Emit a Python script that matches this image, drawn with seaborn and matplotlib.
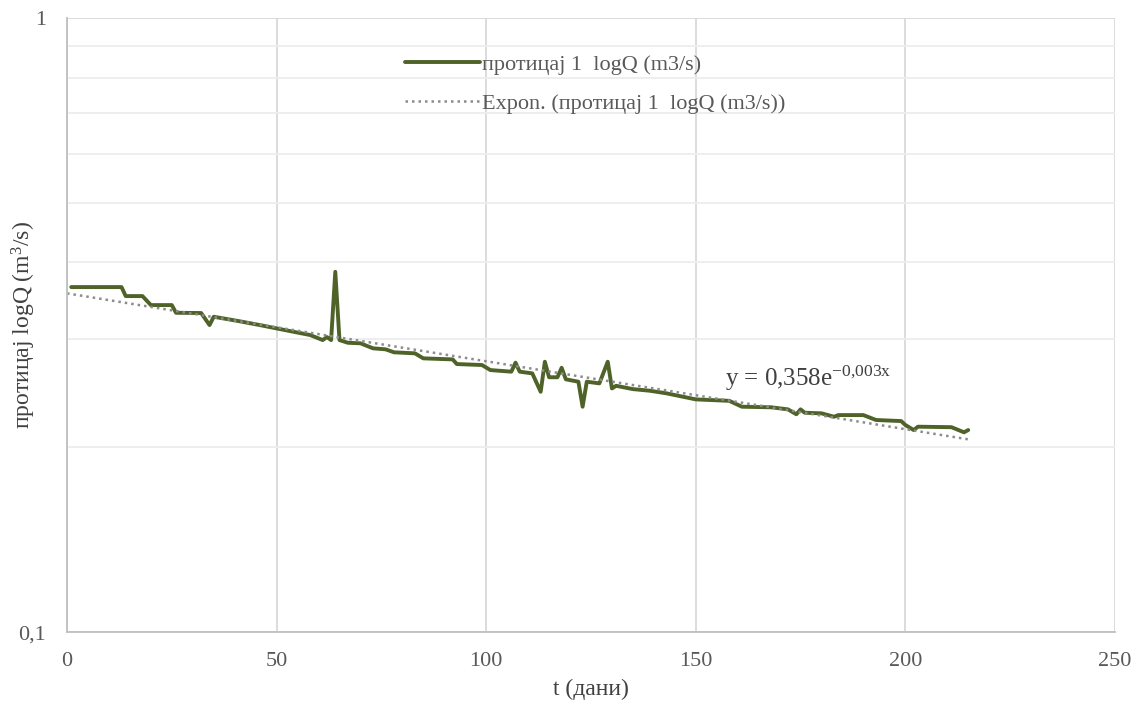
import numpy as np
import pandas as pd
import matplotlib
matplotlib.use("Agg")
import matplotlib.pyplot as plt
import seaborn as sns
from matplotlib.ticker import FixedLocator, FixedFormatter, NullFormatter

# подаци очитани са графика (t у данима, Q у m3/s)
t_dani = [1, 13, 14, 18, 20, 25, 26, 32, 34, 35, 41, 46, 48, 54, 58, 61, 62, 63, 64, 65,
          67, 70, 73, 76, 78, 83, 85, 92, 93, 99, 101, 106, 107, 108, 111, 113, 114, 115,
          117, 118, 119, 122, 123, 124, 127, 129, 130, 131, 135, 139, 143, 150, 158, 161,
          168, 172, 174, 175, 176, 180, 183, 184, 190, 193, 199, 200, 202, 203, 211, 214, 215]
protok = [0.3646, 0.3646, 0.3525, 0.3525, 0.3408, 0.3408, 0.3311, 0.3308, 0.3162, 0.3262,
          0.3209, 0.3162, 0.3142, 0.3084, 0.3046, 0.2989, 0.3023, 0.2989, 0.3861, 0.2989,
          0.2959, 0.2953, 0.2898, 0.2887, 0.2855, 0.2844, 0.2791, 0.2780, 0.2732, 0.2722,
          0.2671, 0.2655, 0.2746, 0.2655, 0.2638, 0.2462, 0.2756, 0.2600, 0.2600, 0.2694,
          0.2580, 0.2557, 0.2328, 0.2557, 0.2541, 0.2756, 0.2493, 0.2518, 0.2487, 0.2472,
          0.2448, 0.2393, 0.2380, 0.2328, 0.2323, 0.2305, 0.2263, 0.2305, 0.2276, 0.2271,
          0.2242, 0.2256, 0.2256, 0.2215, 0.2206, 0.2174, 0.2133, 0.2160, 0.2156, 0.2115,
          0.2133]

x_ticks = [0, 50, 100, 150, 200, 250]
y_ticks = [0.1, 1]
y_tick_labels = ['0,1', '1']
y_minor = [0.2, 0.3, 0.4, 0.5, 0.6, 0.7, 0.8, 0.9]

label_serija = 'протицај 1  logQ (m3/s)'
label_trend = 'Expon. (протицај 1  logQ (m3/s))'

df = pd.DataFrame({'t': t_dani, 'Q': protok})

# експоненцијални тренд (као у Excel-у)
b, ln_a = np.polyfit(df['t'], np.log(df['Q']), 1)
t_fit = np.linspace(0, max(t_dani), 200)
trend = pd.DataFrame({'t': t_fit, 'Q': np.exp(ln_a) * np.exp(b * t_fit)})

sns.set_style('white')
plt.rcParams['font.family'] = ['Liberation Serif', 'DejaVu Serif']
plt.rcParams['mathtext.fontset'] = 'custom'
plt.rcParams['mathtext.rm'] = 'Liberation Serif'
plt.rcParams['mathtext.default'] = 'regular'

fig = plt.figure(figsize=(11.4, 7.07), dpi=100)
ax = fig.add_axes([0.0588, 0.106, 0.9192, 0.8685])

sns.lineplot(data=df, x='t', y='Q', ax=ax, color='#4F6228', linewidth=2.8, label=label_serija)
sns.lineplot(data=trend, x='t', y='Q', ax=ax, color='#8C8C8C', linewidth=1.8,
             linestyle=(0, (1, 1.6)), label=label_trend)

ax.set_yscale('log')
ax.set_xlim(0, 250)
ax.set_ylim(0.1, 1)

ax.xaxis.set_major_locator(FixedLocator(x_ticks))
ax.yaxis.set_major_locator(FixedLocator(y_ticks))
ax.yaxis.set_major_formatter(FixedFormatter(y_tick_labels))
ax.yaxis.set_minor_locator(FixedLocator(y_minor))
ax.yaxis.set_minor_formatter(NullFormatter())

ax.grid(True, which='major', axis='x', color='#D9D9D9', linewidth=1.3)
ax.grid(True, which='minor', axis='y', color='#EDEDED', linewidth=1.3)
ax.grid(True, which='major', axis='y', color='#D9D9D9', linewidth=1.3)

for s in ['top', 'right']:
    ax.spines[s].set_visible(False)
for s in ['left', 'bottom']:
    ax.spines[s].set_color('#BFBFBF')
    ax.spines[s].set_linewidth(1.3)

ax.tick_params(axis='both', which='both', length=0, labelsize=16, labelcolor='#595959')
ax.tick_params(axis='x', pad=14)
ax.tick_params(axis='y', pad=15)

ax.set_xlabel('t (дани)', fontsize=17, color='#404040', labelpad=6)
ax.set_ylabel('протицај logQ (m$^3$/s)', fontsize=17, color='#404040')
ax.yaxis.set_label_coords(-0.028, 0.5)

ax.text(157, 0.252, 'y = 0,358e$^{-0{,}003x}$', fontsize=18, color='#404040')

leg = ax.legend(loc='upper left', bbox_to_anchor=(0.303, 0.974), frameon=False,
                fontsize=16, handlelength=3.4, handletextpad=0.1, labelspacing=0.85)
for txt in leg.get_texts():
    txt.set_color('#595959')

fig.savefig('out.png', dpi=100)
